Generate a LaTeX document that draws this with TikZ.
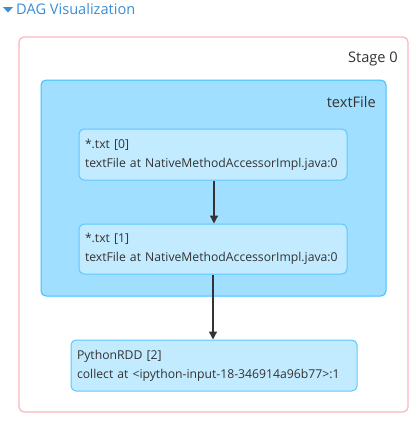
\documentclass[tikz,border=0pt]{standalone}
\usepackage{fontspec}
\setmainfont{Open Sans}
\usetikzlibrary{arrows.meta}
\definecolor{stageborder}{HTML}{FFB3C0}
\definecolor{clusterfill}{HTML}{A0DFFF}
\definecolor{clusterborder}{HTML}{3EC0FF}
\definecolor{nodefill}{HTML}{C3EBFF}
\definecolor{nodeborder}{HTML}{5CC8FF}
\definecolor{txt}{HTML}{333333}
\definecolor{titleblue}{HTML}{3A8DD3}
\tikzset{
  stagebox/.style={draw=stageborder, fill=white, line width=1.2pt, rounded corners=5pt, inner sep=0pt},
  clusterbox/.style={draw=clusterborder, fill=clusterfill, line width=1pt, rounded corners=5pt, inner sep=0pt},
  rddbox/.style={draw=nodeborder, fill=nodefill, line width=1pt, rounded corners=5pt, inner xsep=6pt, inner ysep=0pt,
    align=left, font=\fontsize{12.2}{19}\selectfont, text=txt},
  lbl/.style={anchor=east, inner sep=0pt, font=\fontsize{14.6}{17}\selectfont, text=txt},
  flow/.style={draw=txt, line width=1.3pt, -{Triangle[width=8pt,length=8pt]}}
}
\begin{document}
\begin{tikzpicture}[x=1pt,y=-1pt]
\useasboundingbox (0,0) rectangle (418,421);
% title
\fill[titleblue] (3,7) -- (13,7) -- (8,12.5) -- cycle;
\node[anchor=west, inner sep=0pt, text=titleblue, font=\fontsize{14.6}{17}\selectfont] (title) at (16,9.5) {DAG Visualization};
% stage
\node[stagebox, minimum width=389pt, minimum height=375pt] (stage) at (213.5,224.5) {};
\node[lbl] (stagelbl) at (398,59) {Stage 0};
% cluster
\node[clusterbox, minimum width=345pt, minimum height=216pt] (cluster) at (213.5,188) {};
\node[lbl] (clusterlbl) at (376,102) {textFile};
% rdds
\node[rddbox, text width=256pt, minimum height=51pt] (n0) at (213,154.5) {*.txt [0]\\ {\mbox{textFile at NativeMethodAccessorImpl.java:0}}};
\node[rddbox, text width=256pt, minimum height=50pt] (n1) at (213,249) {*.txt [1]\\ {\mbox{textFile at NativeMethodAccessorImpl.java:0}}};
\node[rddbox, text width=274pt, minimum height=51pt] (n2) at (214,365.5) {PythonRDD [2]\\ {\mbox{collect at <ipython-input-18-346914a96b77>:1}}};
% edges
\draw[flow] (n0.south -| 214,0) -- (n1.north -| 214,0);
\draw[flow] (n1.south -| 213,0) -- (n2.north -| 213,0);
\end{tikzpicture}
\end{document}
